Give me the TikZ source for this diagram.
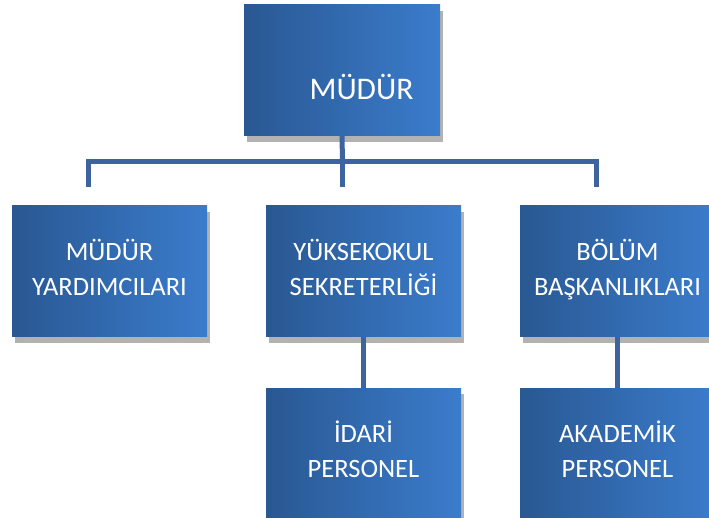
\documentclass[tikz,border=0pt]{standalone}
\usepackage{fontspec}
\setmainfont{Carlito}
\usepackage{tikz}
\usetikzlibrary{positioning}
\usetikzlibrary{shadows}
\definecolor{bdark}{RGB}{41,88,146}
\definecolor{bmid}{RGB}{50,106,178}
\definecolor{blight}{RGB}{59,124,204}
\definecolor{mline}{RGB}{62,100,160}
\tikzset{orgbox/.style = {rectangle, left color=bdark, middle color=bmid, right color=blight,
    text=white, align=center, inner sep = 0, minimum width = 195pt, minimum height = 131pt,
    text depth = 8pt, font=\fontsize{26.5}{35}\selectfont,
    drop shadow={shadow xshift=3pt, shadow yshift=-6pt, fill=black, opacity=0.3}}}
\tikzset{conn/.style = {draw=mline, line width = 5pt}}

\begin{document}
\begin{tikzpicture}[x=1pt, y=-1pt]
      \useasboundingbox (0, 0) rectangle (709, 518);
      \clip (0, 0) rectangle (709, 518);
      % top
      \node [orgbox, minimum width = 196pt] (mudur) at (342, 70.5) {};
      \node [text=white, font=\fontsize{31.5}{36}\selectfont] (mudurtxt) at (361.5, 87) {MÜDÜR};
      % second row
      \node [orgbox] (yard) at (109.5, 271.5) {MÜDÜR\\YARDIMCILARI};
      \node [orgbox] (sekr) at (363.5, 271.5) {YÜKSEKOKUL\\SEKRETERLİĞİ};
      \node [orgbox] (bolum) at (617.5, 271.5) {BÖLÜM\\BAŞKANLIKLARI};
      % third row
      \node [orgbox] (idari) at (363.5, 453.5) {İDARİ\\PERSONEL};
      \node [orgbox] (akad) at (617.5, 453.5) {AKADEMİK\\PERSONEL};
      % lines
      \coordinate (bar) at (342.5, 161.5);
      \coordinate (dl) at (88.5, 187);
      \coordinate (dm) at (342.5, 187);
      \coordinate (dr) at (596.5, 187);
      \draw [conn] (mudur.south) -- (bar);
      \draw [conn] (dl) |- (bar) -| (dr);
      \draw [conn] (bar) -- (dm);
      \draw [conn] (sekr) -- (idari);
      \draw [conn] (bolum) -- (akad);
    \end{tikzpicture}
\end{document}
